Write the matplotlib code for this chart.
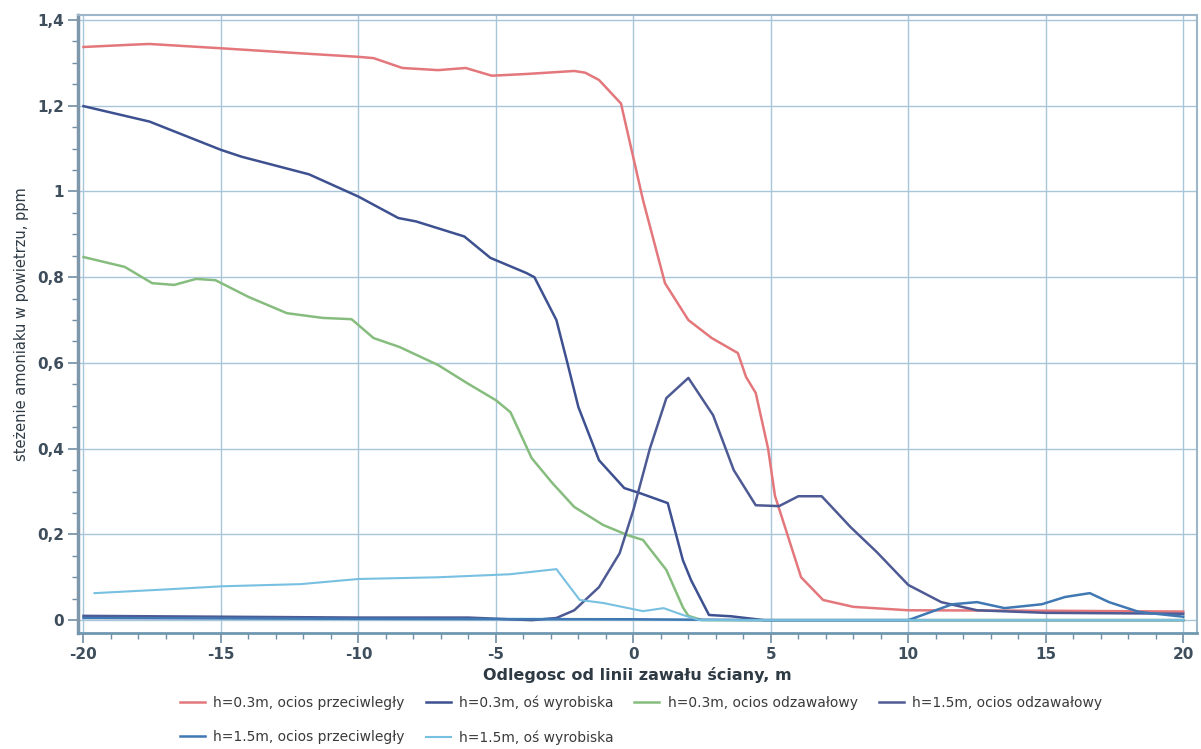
import matplotlib
matplotlib.use("Agg")
import matplotlib.pyplot as plt
from matplotlib.ticker import MultipleLocator, FuncFormatter

# h=0.3m, ocios przeciwległy
x_p03 = [-20, -18, -17.6, -15, -12.3, -10, -9.45, -8.4, -7.1, -6.1, -5.15, -3.9, -2.15, -1.75,
         -1.25, -0.45, 0.35, 1.15, 2.0, 2.85, 3.8, 4.1, 4.45, 4.9, 5.15, 5.6, 6.1, 6.9, 8.0, 10, 15, 20]
y_p03 = [1.337, 1.343, 1.344, 1.334, 1.323, 1.314, 1.311, 1.288, 1.283, 1.288, 1.27, 1.274, 1.281, 1.277,
         1.26, 1.205, 0.98, 0.786, 0.70, 0.658, 0.623, 0.567, 0.53, 0.40, 0.29, 0.20, 0.10, 0.047, 0.031, 0.023, 0.022, 0.02]

# h=0.3m, oś wyrobiska
x_o03 = [-20, -17.6, -15, -14.25, -11.8, -10, -8.55, -7.9, -6.15, -5.2, -3.9, -3.6, -2.8, -2.4, -2.0,
         -1.25, -0.33, 0.25, 1.25, 1.8, 2.1, 2.75, 3.55, 4.75, 20]
y_o03 = [1.199, 1.163, 1.097, 1.081, 1.04, 0.988, 0.938, 0.93, 0.895, 0.845, 0.81, 0.80, 0.70, 0.60, 0.497,
         0.373, 0.308, 0.296, 0.273, 0.14, 0.093, 0.012, 0.009, 0.0, 0.0]

# h=0.3m, ocios odzawałowy
x_z03 = [-20, -18.5, -17.5, -16.7, -15.9, -15.2, -14, -12.6, -11.3, -10.25, -9.45, -8.5, -7.1, -6.05, -5.0,
         -4.47, -3.7, -2.95, -2.15, -1.1, -0.2, 0.35, 1.2, 1.8, 2.0, 2.5, 20]
y_z03 = [0.847, 0.824, 0.786, 0.782, 0.796, 0.793, 0.754, 0.716, 0.705, 0.702, 0.658, 0.637, 0.595, 0.553, 0.513,
         0.485, 0.378, 0.32, 0.264, 0.222, 0.198, 0.187, 0.117, 0.03, 0.01, 0.0, 0.0]

# h=1.5m, ocios odzawałowy
x_z15 = [-20, -15, -10, -6, -4.5, -3.7, -2.8, -2.15, -1.25, -0.5, 0, 0.6, 1.2, 2.0, 2.9, 3.65, 4.45, 5.3,
         6.0, 6.85, 7.9, 8.85, 10, 11.2, 12.5, 15, 20]
y_z15 = [0.01, 0.008, 0.006, 0.006, 0.002, 0.0, 0.005, 0.023, 0.077, 0.156, 0.257, 0.40, 0.518, 0.565, 0.478,
         0.35, 0.268, 0.266, 0.289, 0.289, 0.217, 0.159, 0.082, 0.042, 0.023, 0.017, 0.015]

# h=1.5m, ocios przeciwległy
x_p15 = [-20, -10, 0, 5, 10, 11.6, 12.5, 13.5, 14.85, 15.7, 16.6, 17.3, 18.4, 20]
y_p15 = [0.005, 0.003, 0.002, 0.0, 0.0, 0.037, 0.042, 0.028, 0.037, 0.054, 0.063, 0.042, 0.019, 0.008]

# h=1.5m, oś wyrobiska
x_o15 = [-19.6, -16.9, -14.95, -12.1, -10, -7.1, -4.5, -2.8, -1.95, -1.1, 0.35, 1.1, 1.8, 2.4, 20]
y_o15 = [0.063, 0.072, 0.079, 0.084, 0.096, 0.10, 0.107, 0.119, 0.047, 0.04, 0.021, 0.028, 0.012, 0.0, 0.0]

labels = ["h=0.3m, ocios przeciwległy", "h=0.3m, oś wyrobiska", "h=0.3m, ocios odzawałowy",
          "h=1.5m, ocios odzawałowy", "h=1.5m, ocios przeciwległy", "h=1.5m, oś wyrobiska"]

plt.rcParams['font.family'] = ['DejaVu Sans']

fig = plt.figure(figsize=(12.01, 7.49), dpi=100)
ax = fig.add_axes([78 / 1201, 1 - 633 / 749, (1197 - 78) / 1201, (633 - 15) / 749])

h1, = ax.plot(x_p03, y_p03, color='#e3777c', lw=1.8, label=labels[0])
h2, = ax.plot(x_o03, y_o03, color='#3d5090', lw=1.8, label=labels[1])
h3, = ax.plot(x_z03, y_z03, color='#86bd7e', lw=1.8, label=labels[2])
h4, = ax.plot(x_z15, y_z15, color='#4d5a93', lw=1.8, label=labels[3])
h5, = ax.plot(x_p15, y_p15, color='#3f78b2', lw=1.8, label=labels[4])
h6, = ax.plot(x_o15, y_o15, color='#78c0e2', lw=1.5, label=labels[5])

ax.set_xlim(-20.2, 20.5)
ax.set_ylim(-0.03, 1.4116)

ax.xaxis.set_major_locator(MultipleLocator(5))
ax.xaxis.set_minor_locator(MultipleLocator(1))
ax.yaxis.set_major_locator(MultipleLocator(0.2))
ax.yaxis.set_minor_locator(MultipleLocator(0.05))

# przecinek dziesiętny jak w oryginale
ax.xaxis.set_major_formatter(FuncFormatter(lambda v, p: f"{v:g}"))
ax.yaxis.set_major_formatter(FuncFormatter(lambda v, p: f"{round(v, 2):g}".replace('.', ',')))

ax.grid(True, which='major', color='#a8c6da', lw=1.0)
ax.set_axisbelow(True)

for s in ax.spines.values():
    s.set_color('#9db7c9')
    s.set_linewidth(1.5)
ax.spines['left'].set_color('#7f97aa')
ax.spines['left'].set_linewidth(2.5)
ax.spines['bottom'].set_color('#6f98b0')
ax.spines['bottom'].set_linewidth(2)

ax.tick_params(axis='both', which='major', length=7, width=1.2, color='#6f8ea4',
               labelsize=11, labelcolor='#3e4e5c', pad=3)
ax.tick_params(axis='both', which='minor', length=4, width=1.0, color='#6f8ea4')
for t in ax.get_xticklabels() + ax.get_yticklabels():
    t.set_fontweight('bold')

ax.set_xlabel("Odlegosc od linii zawału ściany, m", fontsize=11.5, fontweight='bold',
              color='#2e3a44', labelpad=4)
ax.set_ylabel("steżenie amoniaku w powietrzu, ppm", fontsize=10.5, color='#2e3a44', labelpad=6)

handles = [h1, h5, h2, h6, h3, h4]
leg = fig.legend(handles, [h.get_label() for h in handles], ncol=4, loc='center',
                 bbox_to_anchor=(641 / 1201, 1 - 720 / 749), frameon=False, fontsize=10,
                 handlelength=1.8, handletextpad=0.6, columnspacing=1.5, labelspacing=1.45)
for t in leg.get_texts():
    t.set_color('#3a3a3a')

fig.savefig("out.png", dpi=100)
